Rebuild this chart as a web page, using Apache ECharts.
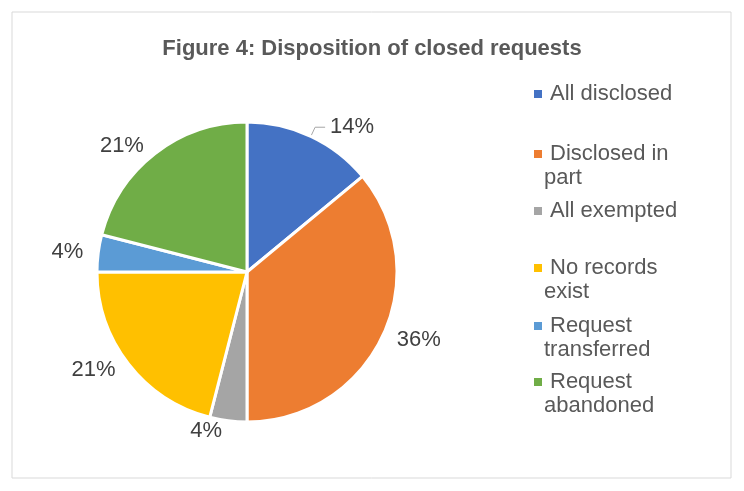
<!DOCTYPE html>
<html><head><meta charset="utf-8">
<script src="https://cdn.jsdelivr.net/npm/echarts@6/dist/echarts.min.js"></script>
<style>html,body{margin:0;padding:0;background:#fff}#c{width:744px;height:491px}</style>
</head><body><div id="c"></div>
<script>
const categories = ["All disclosed","Disclosed in part","All exempted","No records exist","Request transferred","Request abandoned"];
const values = [14,36,4,21,4,21];
const legendLines = [["All disclosed"],["Disclosed in","part"],["All exempted"],["No records","exist"],["Request","transferred"],["Request","abandoned"]];
const colors = ["#4472C4","#ED7D31","#A5A5A5","#FFC000","#5B9BD5","#70AD47"];
const legendTops = [78,138,195,252,310,366];
const font = "'Liberation Sans', Arial, sans-serif";
const chart = echarts.init(document.getElementById('c'));
const legends = categories.map((n,i)=>({
  data:[n], left:527, top:legendTops[i], icon:'rect', itemWidth:10, itemHeight:10, itemGap:0,
  selectedMode:false, formatter:()=>legendLines[i][0],
  textStyle:{fontFamily:font,fontSize:22,color:'#595959',padding:[0,0,0,2]}
}));
const graphics = [{type:'rect',shape:{x:12,y:12,width:719,height:466},style:{fill:'none',stroke:'#D9D9D9',lineWidth:1}}];
legendLines.forEach((l,i)=>{ if(l[1]) graphics.push({type:'text',left:544,top:legendTops[i]+29,style:{text:l[1],font:'22px '+font,fill:'#595959'}}); });
chart.setOption({
  color:colors,
  title:{text:'Figure 4: Disposition of closed requests',left:'center',top:33,
    textStyle:{fontFamily:font,fontSize:22,fontWeight:'bold',color:'#595959'}},
  legend:legends,
  graphic:graphics,
  series:[{type:'pie',center:[247,272],radius:[0,150],startAngle:90,clockwise:true,
    itemStyle:{borderColor:'#fff',borderWidth:3},
    label:{show:true,formatter:'{d}%',fontFamily:font,fontSize:22,color:'#404040'},
    labelLine:{show:true,length:10,length2:0,lineStyle:{color:'#ffffff00'}},
    emphasis:{disabled:true},
    data:categories.map((n,i)=>{
      const d={name:n,value:values[i]};
      if(i===0) d.labelLine={show:true,length:10,length2:10,lineStyle:{color:'#A6A6A6'}};
      return d;
    })
  }]
});
</script></body></html>
